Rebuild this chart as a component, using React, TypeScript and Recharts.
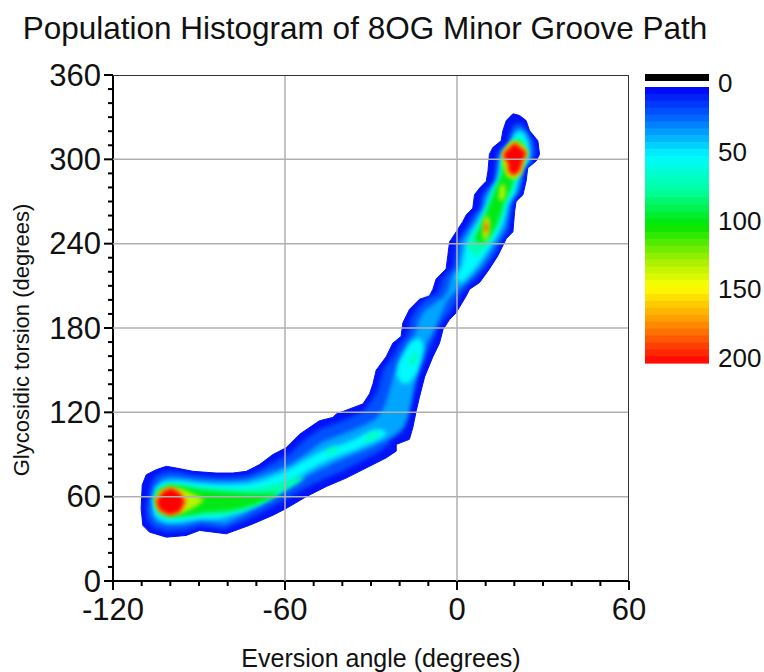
import React from 'react';
import { ScatterChart, Scatter, XAxis, YAxis, Legend } from 'recharts';

const FONT = '"Liberation Sans", Arial, Helvetica, sans-serif';

// ---------- axes / labels ----------
const TITLE = 'Population Histogram of 8OG Minor Groove Path';
const X_TITLE = 'Eversion angle (degrees)';
const Y_TITLE = 'Glycosidic torsion (degrees)';
const X_TICKS = [-120, -110, -100, -90, -80, -70, -60, -50, -40, -30, -20, -10, 0, 10, 20, 30, 40, 50, 60];
const X_MAJOR = [-120, -60, 0, 60];
const Y_TICKS = [0, 10, 20, 30, 40, 50, 60, 70, 80, 90, 100, 110, 120, 130, 140, 150, 160, 170, 180, 190, 200, 210, 220, 230, 240, 250, 260, 270, 280, 290, 300, 310, 320, 330, 340, 350, 360];
const Y_MAJOR = [0, 60, 120, 180, 240, 300, 360];
const GRID_X = [-60, 0];
const GRID_Y = [60, 120, 180, 240, 300];
const COLORBAR_TICKS = [0, 50, 100, 150, 200];

type Pt = [number, number];

// ---------- contour polygons (eversion, torsion) ----------
const LEVEL_4_OUTER: Pt[] = [
  [-109.8, 68.4], [-108.4, 75.6], [-104.9, 79.2], [-101.4, 81.6], [-98.0, 80.4], [-92.1, 78.0], [-84.0, 76.8], [-78.2, 76.8],
  [-73.5, 78.0], [-68.9, 82.8], [-64.2, 90.0], [-59.6, 94.8], [-54.9, 104.4], [-48.0, 114.0], [-43.3, 116.4], [-42.1, 118.8],
  [-37.5, 122.4], [-32.8, 126.0], [-30.5, 133.2], [-29.3, 140.4], [-28.2, 150.0], [-24.7, 159.6], [-22.4, 169.2], [-19.5, 174.0],
  [-18.9, 183.6], [-16.6, 193.2], [-13.1, 200.4], [-9.6, 202.8], [-8.4, 207.6], [-7.3, 214.8], [-3.8, 222.0], [-3.2, 231.6],
  [-2.6, 241.2], [-0.3, 248.4], [2.0, 255.6], [3.2, 260.4], [5.5, 265.2], [6.1, 274.8], [7.9, 279.6], [10.2, 284.4],
  [10.8, 291.6], [11.3, 303.6], [12.5, 308.4], [15.4, 313.2], [16.0, 320.4], [17.2, 327.6], [19.5, 332.4], [21.8, 331.2],
  [24.1, 327.6], [25.3, 320.4], [28.2, 313.2], [28.8, 303.6], [27.6, 298.8], [24.7, 294.0], [24.1, 284.4], [23.0, 274.8],
  [20.6, 270.0], [20.1, 262.8], [19.5, 248.4], [17.2, 243.6], [14.3, 231.6], [11.3, 222.0], [7.9, 212.4], [4.4, 207.6],
  [3.2, 202.8], [-0.3, 190.8], [-2.6, 186.0], [-4.9, 178.8], [-6.1, 169.2], [-8.4, 159.6], [-11.3, 145.2], [-13.1, 130.8],
  [-14.2, 121.2], [-15.4, 109.2], [-16.6, 100.8], [-21.2, 97.2], [-21.2, 92.4], [-24.7, 87.6], [-31.7, 80.4], [-38.7, 73.2],
  [-45.6, 67.2], [-52.6, 60.0], [-59.6, 51.6], [-64.2, 46.8], [-72.4, 39.6], [-80.5, 33.6], [-89.8, 36.0], [-94.5, 32.4],
  [-101.4, 31.2], [-107.3, 34.8], [-109.6, 39.6], [-110.2, 51.6],
];

const LEVEL_18: Pt[] = [
  [-107, 67], [-105.5, 74], [-103, 77], [-100, 78], [-97, 77.5], [-92, 75.5], [-84, 74], [-78, 74], [-73, 75], [-68, 79.5],
  [-63.5, 85], [-58.5, 90], [-54, 99], [-47.5, 108.5], [-43, 111.5], [-40, 114], [-36, 117.5], [-32.5, 121],
  [-30, 128], [-27.8, 135], [-26.8, 142], [-25.6, 151], [-22.2, 160], [-19.9, 169], [-17, 176], [-16.4, 185], [-14, 194],
  [-10.6, 201], [-7.1, 204], [-5.9, 209], [-4.8, 216], [-1.3, 223], [-0.7, 232], [-0.1, 241], [2.2, 248], [4.5, 255],
  [5.7, 260], [8, 265], [8.6, 274], [10.4, 279], [12.7, 284], [13.3, 292], [13.8, 303], [15, 307], [17.9, 312], [18.5, 319],
  [19.7, 325], [22.5, 326], [24.5, 320], [26.8, 312], [27.3, 304], [26.3, 299], [23.5, 293.5], [22.8, 285], [21.8, 277],
  [19.5, 271], [18.8, 262], [18, 250], [15.8, 243], [13, 232], [10, 223], [6.5, 215], [3.2, 209], [1, 203], [-2.5, 191],
  [-5, 185], [-7.5, 177], [-8.8, 169], [-11, 159], [-13.8, 146], [-15.5, 133], [-16.5, 125], [-17.5, 115], [-19, 106],
  [-23, 101], [-24, 97], [-27, 92], [-33, 85.5], [-40, 78], [-47, 72], [-54, 65], [-61, 56.5], [-65.5, 51.5], [-73, 44],
  [-81, 37], [-89.5, 39], [-95, 36], [-101, 35], [-106, 38], [-108, 44], [-108.5, 52],
];

const LEVEL_34: Pt[] = [
  [-106.5, 58], [-105.5, 67], [-103, 72.5], [-100, 74], [-96, 73.5], [-91, 72], [-84, 71], [-78, 71], [-73, 72], [-68, 75.5],
  [-63, 79], [-58, 83], [-53, 90], [-47, 99], [-42, 103], [-38, 106], [-33.5, 110], [-28.5, 115], [-25.5, 123], [-24, 132],
  [-23, 140], [-21.5, 150], [-19, 160], [-17.5, 168], [-14.5, 176], [-13.5, 185], [-11.5, 192], [-8, 197.5], [-4.5, 202],
  [-3, 208], [-2, 216], [0.5, 224], [1, 233], [1.5, 241], [3.5, 248], [5.5, 254], [7, 259], [9, 265], [9.8, 273], [11.5, 279],
  [13.5, 284], [14.3, 292], [14.8, 302], [16, 306.5], [18.8, 311.5], [19.5, 318], [21, 322], [22, 322], [24, 319.5], [25.5, 313],
  [26, 305], [25.5, 299], [23, 294], [22.2, 285], [21.3, 277], [19, 271], [18, 262], [16.8, 251], [14.5, 243], [11.5, 233],
  [8.5, 224], [5, 216], [2, 210], [-1, 205], [-3.5, 199], [-5.5, 190], [-7, 183], [-8.5, 176], [-11, 168], [-12, 160],
  [-13.8, 148], [-15, 138], [-16, 127], [-17, 118], [-18.5, 110], [-22, 103.5], [-26, 99], [-30, 95], [-35, 91], [-42, 85],
  [-49, 78], [-56, 71], [-62.5, 63], [-67, 56], [-74, 47.5], [-81, 40.5], [-89, 43], [-95, 40], [-100.5, 39.5], [-105, 42],
  [-106.5, 49],
];

const LEVEL_50_LEFT: Pt[] = [
  [-106, 58], [-105, 66], [-102, 70.5], [-98, 71], [-92, 69.5], [-86, 68.5], [-79, 68.5], [-73, 69], [-68, 71.5], [-63, 75.5],
  [-58, 80], [-53, 86], [-47, 92.5], [-41, 96.5], [-36, 100.5], [-32, 105], [-28.5, 108], [-25.5, 107.5], [-24.5, 104], [-27, 101],
  [-31, 97.5], [-36, 93], [-42, 88.5], [-48, 83], [-54, 76], [-59, 68], [-64, 61], [-69, 55], [-76, 49], [-83, 44.5], [-91, 44],
  [-97, 42], [-101.5, 42], [-105, 45.5], [-106, 52],
];
const LEVEL_50_MID: Pt[] = [
  [-21, 146], [-20.5, 155], [-18.5, 163], [-16, 170], [-13, 173], [-11.5, 167], [-12.5, 157], [-14, 148], [-16.5, 141], [-19, 140],
];
const LEVEL_50_TOP: Pt[] = [
  [-0.5, 216], [1.5, 223], [2.5, 232], [3.5, 241], [5.5, 249], [7.5, 256], [9, 262], [10.5, 268], [11.5, 275], [13, 281],
  [14.5, 286], [15, 292], [15.5, 300], [16.8, 306], [19, 312], [20, 317], [21.5, 320], [23, 319], [24.5, 313], [25, 305],
  [24.5, 298], [22, 292], [21, 284], [20, 276], [17.5, 268], [16.5, 258], [15, 250], [13, 243], [10, 233], [7, 224], [4, 217],
  [1.5, 212],
];

const LEVEL_70_LEFT: Pt[] = [
  [-105.5, 58], [-104, 66], [-100.5, 69], [-96, 69], [-90, 67], [-83, 66], [-75, 65.5], [-68, 67], [-62, 70], [-57, 73.5],
  [-53, 75], [-55, 70], [-60, 64], [-66, 57], [-73, 51], [-81, 47], [-90, 46.5], [-97, 44.5], [-101.5, 44.5], [-104.5, 48],
];
const LEVEL_70_TOP: Pt[] = [
  [3.5, 238], [5.5, 246], [8, 254], [10, 262], [11.5, 270], [13, 278], [14.8, 285], [15.5, 292], [16, 300], [17.3, 306],
  [19.3, 312], [20.5, 316], [22.5, 315.5], [23.8, 311], [24.2, 305], [23.8, 299], [21.3, 293], [20.3, 285], [19.3, 277],
  [17, 269], [15.8, 259], [14.2, 251], [12.2, 244], [9.5, 236], [6.5, 230],
];
const LEVEL_70_MID_A: Pt[] = [[-33, 101], [-29.5, 106], [-27, 106.5], [-27.5, 103], [-31, 99.5]];
const LEVEL_70_MID_B: Pt[] = [[-47, 91], [-43, 95.5], [-40.5, 95], [-43.5, 90.5]];
const LEVEL_70_MID_C: Pt[] = [[-17, 155], [-15, 163], [-13.5, 162], [-15, 153]];

const LEVEL_97_LEFT: Pt[] = [
  [-105.5, 58], [-104, 65], [-100.5, 68], [-96, 67.5], [-90, 65], [-82, 63.5], [-74, 62.5], [-68, 62], [-62, 63], [-65, 59],
  [-71, 54], [-79, 50], [-87, 49], [-95, 46.5], [-100, 46], [-103.5, 49],
];
const LEVEL_97_TOP: Pt[] = [
  [6, 243], [8, 251], [9.5, 259], [11, 266], [12.5, 274], [13.8, 281], [15.3, 287], [16, 294], [16.5, 301], [17.8, 307],
  [19.5, 312], [22, 312.5], [23.3, 308], [23.5, 303], [23, 298], [20.8, 293], [19.8, 286], [18.5, 278], [16.5, 270],
  [15.2, 261], [13.7, 253], [11.7, 246], [9, 240],
];

const LEVEL_130_LEFT: Pt[] = [
  [-105.3, 57], [-104, 63.5], [-100, 67], [-96, 65.5], [-92, 62], [-88, 58], [-91, 53], [-95.5, 48.5], [-100, 47], [-104, 50],
];
const LEVEL_130_TOP: Pt[] = [
  [15.8, 297], [16, 305], [19, 313], [22.5, 311.5], [24.6, 305], [23.3, 297], [22.5, 289.5], [20, 285.5], [17.3, 288],
];
const LEVEL_130_MID_A: Pt[] = [[14.5, 272], [15, 281], [16.5, 283], [17, 276], [16, 270]];
const LEVEL_130_MID_B: Pt[] = [[9, 245], [9.3, 256], [10.5, 261], [11.5, 255], [11, 246], [10, 241]];

const LEVEL_165_LEFT: Pt[] = [
  [-105.2, 56.5], [-103, 64.5], [-99.6, 66.5], [-96.2, 63], [-94, 57], [-96.2, 49.5], [-100.2, 46.5], [-104, 49.5],
];
const LEVEL_165_TOP: Pt[] = [
  [15.9, 304.3], [20, 312.5], [24.5, 304.8], [23, 298], [22.2, 291.5], [20, 288], [17.8, 290.5], [17.5, 298.4], [16.2, 300.6],
];
const LEVEL_165_MID: Pt[] = [[9.5, 248], [9.7, 256], [10.4, 258.5], [10.8, 252], [10.2, 245.5]];

const LEVEL_200_LEFT: Pt[] = [
  [-104.9, 56.4], [-102.5, 63.5], [-99.6, 65.9], [-96.7, 62.4], [-95.0, 56.4], [-96.7, 49.3], [-100.2, 47.0], [-103.7, 50.5],
];
const LEVEL_200_TOP: Pt[] = [
  [16.3, 304.1], [20.1, 311.7], [24.2, 304.6], [22.8, 298.9], [21.9, 292.2], [20.1, 288.7], [18.1, 291.0], [17.8, 298.2], [16.6, 300.5],
];
const LEVEL_200_MID: Pt[] = [[9.8, 250], [10, 255], [10.5, 253], [10.3, 248]];

const CONTOURS: { level: number; pts: Pt[] }[] = [
  { level: 4, pts: LEVEL_4_OUTER },
  { level: 18, pts: LEVEL_18 },
  { level: 34, pts: LEVEL_34 },
  { level: 50, pts: LEVEL_50_LEFT },
  { level: 50, pts: LEVEL_50_MID },
  { level: 50, pts: LEVEL_50_TOP },
  { level: 70, pts: LEVEL_70_LEFT },
  { level: 70, pts: LEVEL_70_TOP },
  { level: 70, pts: LEVEL_70_MID_A },
  { level: 70, pts: LEVEL_70_MID_B },
  { level: 70, pts: LEVEL_70_MID_C },
  { level: 97, pts: LEVEL_97_LEFT },
  { level: 97, pts: LEVEL_97_TOP },
  { level: 130, pts: LEVEL_130_LEFT },
  { level: 130, pts: LEVEL_130_TOP },
  { level: 130, pts: LEVEL_130_MID_A },
  { level: 130, pts: LEVEL_130_MID_B },
  { level: 165, pts: LEVEL_165_LEFT },
  { level: 165, pts: LEVEL_165_TOP },
  { level: 165, pts: LEVEL_165_MID },
  { level: 200, pts: LEVEL_200_LEFT },
  { level: 200, pts: LEVEL_200_TOP },
  { level: 200, pts: LEVEL_200_MID },
];

// ---------- colour map (style) ----------
const CMAP: [number, [number, number, number]][] = [
  [0, [0, 0, 245]],
  [20, [0, 90, 255]],
  [50, [0, 250, 255]],
  [75, [0, 255, 160]],
  [100, [0, 230, 0]],
  [125, [160, 240, 0]],
  [145, [255, 255, 0]],
  [170, [255, 150, 0]],
  [190, [255, 50, 0]],
  [200, [255, 0, 0]],
];
function colorFor(v: number): string {
  if (v <= CMAP[0][0]) return `rgb(${CMAP[0][1].join(',')})`;
  for (let i = 1; i < CMAP.length; i++) {
    const [v1, c1] = CMAP[i];
    const [v0, c0] = CMAP[i - 1];
    if (v <= v1) {
      const t = (v - v0) / (v1 - v0);
      const c = c0.map((a, k) => Math.round(a + (c1[k] - a) * t));
      return `rgb(${c.join(',')})`;
    }
  }
  return 'rgb(255,0,0)';
}

const noShape = () => <g />;

function makeFill(color: string, blur: boolean, withDefs: boolean) {
  return (props: any) => {
    const pts: { x: number; y: number }[] = props.points || [];
    const d = pts.map((p, i) => `${i ? 'L' : 'M'}${p.x},${p.y}`).join('') + 'Z';
    return (
      <g>
        {withDefs && (
          <defs>
            <filter id="soft" filterUnits="userSpaceOnUse" x="0" y="0" width="764" height="672">
              <feGaussianBlur stdDeviation="2" />
            </filter>
          </defs>
        )}
        <path d={d} fill={color} stroke={color} strokeWidth={blur ? 0 : 1} strokeLinejoin="round" filter={blur ? 'url(#soft)' : undefined} />
      </g>
    );
  };
}

const XTick = (props: any) => {
  const { x, y, payload } = props;
  const major = X_MAJOR.includes(payload.value);
  return (
    <g>
      <line x1={x} x2={x} y1={y} y2={y + (major ? 9 : 5)} stroke="#000" strokeWidth={2} />
      {major && (
        <text x={x} y={y + 39} textAnchor="middle" fontSize={31} fontFamily={FONT} fill="#111">
          {payload.value}
        </text>
      )}
    </g>
  );
};

const YTick = (props: any) => {
  const { x, y, payload } = props;
  const major = Y_MAJOR.includes(payload.value);
  return (
    <g>
      <line x1={x} x2={x - (major ? 9 : 5)} y1={y} y2={y} stroke="#000" strokeWidth={2} />
      {major && (
        <text x={x - 12} y={y + 10.5} textAnchor="end" fontSize={31} fontFamily={FONT} fill="#111">
          {payload.value}
        </text>
      )}
    </g>
  );
};

const renderXTitle = () => (
  <text x={381} y={667} textAnchor="middle" fontSize={25} fontFamily={FONT} fill="#111">
    {X_TITLE}
  </text>
);

const renderYTitle = () => (
  <text x={0} y={0} transform="translate(29,340) rotate(-90)" textAnchor="middle" fontSize={22} fontFamily={FONT} fill="#111">
    {Y_TITLE}
  </text>
);

const BAND_COUNT = 40;
const renderColorbar = () => {
  const top = 27;
  const h = 276;
  const bands = Array.from({ length: BAND_COUNT }, (_, i) => i);
  const maxV = COLORBAR_TICKS[COLORBAR_TICKS.length - 1];
  return (
    <svg width={124} height={320} style={{ display: 'block', overflow: 'visible' }}>
      <rect x={5} y={14} width={64} height={7} fill="#000" />
      {bands.map((i) => (
        <rect
          key={i}
          x={5}
          y={top + (i * h) / BAND_COUNT}
          width={64}
          height={h / BAND_COUNT + 0.6}
          fill={colorFor(((i + 0.5) / BAND_COUNT) * maxV)}
        />
      ))}
      {COLORBAR_TICKS.map((v) => (
        <text key={v} x={78} y={23 + v * 1.375 + 9} fontSize={26} fontFamily={FONT} fill="#111">
          {v}
        </text>
      ))}
    </svg>
  );
};

export default function App() {
  return (
    <div style={{ position: 'absolute', left: 0, top: 0, width: 764, height: 672, background: '#fff', overflow: 'hidden' }}>
      <svg width={764} height={60} style={{ position: 'absolute', left: 0, top: 0 }}>
        <text x={365} y={39} textAnchor="middle" fontSize={31.5} fontFamily={FONT} fill="#111">
          {TITLE}
        </text>
      </svg>
      <div style={{ position: 'absolute', left: 0, top: 0 }}>
        <ScatterChart width={764} height={672} margin={{ top: 75, right: 135, bottom: 51, left: 0 }}>
          <XAxis
            type="number"
            dataKey="x"
            domain={[-120, 60]}
            ticks={X_TICKS}
            interval={0}
            allowDataOverflow
            axisLine={{ stroke: '#000', strokeWidth: 2 }}
            tickLine={false}
            tickSize={0}
            tickMargin={0}
            height={40}
            tick={XTick}
            label={{ content: renderXTitle }}
          />
          <YAxis
            type="number"
            dataKey="y"
            domain={[0, 360]}
            ticks={Y_TICKS}
            interval={0}
            allowDataOverflow
            axisLine={{ stroke: '#000', strokeWidth: 2 }}
            tickLine={false}
            tickSize={0}
            tickMargin={0}
            width={113}
            tick={YTick}
            label={{ content: renderYTitle }}
          />
          {CONTOURS.map((c, i) => (
            <Scatter
              key={'c' + i}
              data={c.pts.map(([x, y]) => ({ x, y }))}
              line={makeFill(colorFor(c.level), i > 0, i === 0)}
              lineType="joint"
              shape={noShape}
              isAnimationActive={false}
              legendType="none"
            />
          ))}
          {GRID_X.map((g) => (
            <Scatter
              key={'gx' + g}
              data={[{ x: g, y: 0 }, { x: g, y: 360 }]}
              line={{ stroke: '#b0b0b0', strokeWidth: 1.5 }}
              lineType="joint"
              shape={noShape}
              isAnimationActive={false}
              legendType="none"
            />
          ))}
          {GRID_Y.map((g) => (
            <Scatter
              key={'gy' + g}
              data={[{ x: -120, y: g }, { x: 60, y: g }]}
              line={{ stroke: '#b0b0b0', strokeWidth: 1.5 }}
              lineType="joint"
              shape={noShape}
              isAnimationActive={false}
              legendType="none"
            />
          ))}
          <Scatter
            data={[{ x: -120, y: 360 }, { x: 60, y: 360 }, { x: 60, y: 0 }]}
            line={{ stroke: '#333', strokeWidth: 2 }}
            lineType="joint"
            shape={noShape}
            isAnimationActive={false}
            legendType="none"
          />
          <Legend
            layout="horizontal"
            verticalAlign="middle"
            align="center"
            content={renderColorbar}
            wrapperStyle={{ position: 'absolute', left: 640, top: 60, width: 124, height: 320 }}
          />
        </ScatterChart>
      </div>
    </div>
  );
}
